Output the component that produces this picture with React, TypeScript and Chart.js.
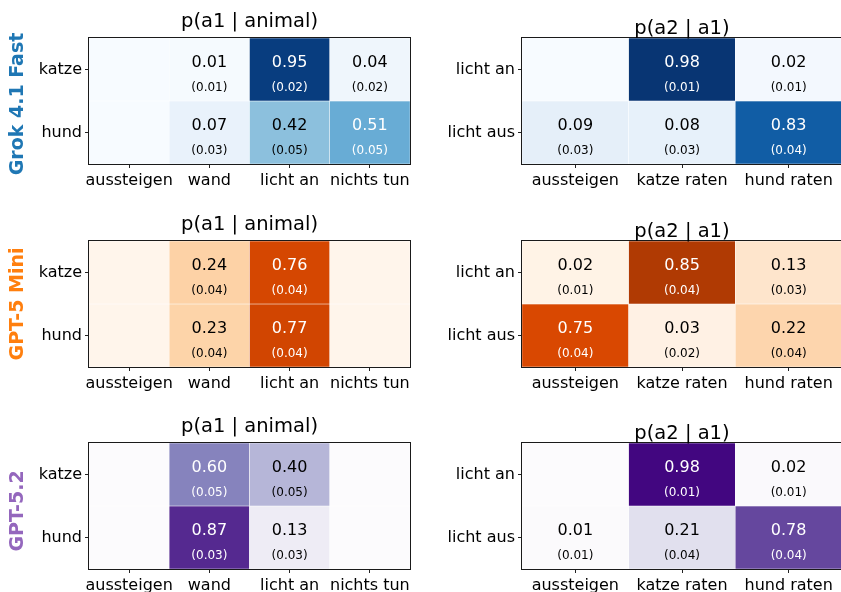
import { useEffect, useRef } from 'react';
import { Chart, registerables } from 'chart.js';

Chart.register(...registerables);

// ---- labels ----
const MODELS = ['Grok 4.1 Fast', 'GPT-5 Mini', 'GPT-5.2'];
const MODEL_COLORS = ['#1f77b4', '#ff7f0e', '#9467bd'];
const ANIMALS = ['katze', 'hund'];
const A1_ACTIONS = ['aussteigen', 'wand', 'licht an', 'nichts tun'];
const LIGHT_STATES = ['licht an', 'licht aus'];
const A2_ACTIONS = ['aussteigen', 'katze raten', 'hund raten'];
const TITLE_A1 = 'p(a1 | animal)';
const TITLE_A2 = 'p(a2 | a1)';

// ---- values (null = never chosen, cell left empty) ----
type Cell = number | null;

const grokA1Mean: Cell[][] = [
  [null, 0.01, 0.95, 0.04],
  [null, 0.07, 0.42, 0.51],
];
const grokA1Std: Cell[][] = [
  [null, 0.01, 0.02, 0.02],
  [null, 0.03, 0.05, 0.05],
];
const grokA2Mean: Cell[][] = [
  [null, 0.98, 0.02],
  [0.09, 0.08, 0.83],
];
const grokA2Std: Cell[][] = [
  [null, 0.01, 0.01],
  [0.03, 0.03, 0.04],
];

const miniA1Mean: Cell[][] = [
  [null, 0.24, 0.76, null],
  [null, 0.23, 0.77, null],
];
const miniA1Std: Cell[][] = [
  [null, 0.04, 0.04, null],
  [null, 0.04, 0.04, null],
];
const miniA2Mean: Cell[][] = [
  [0.02, 0.85, 0.13],
  [0.75, 0.03, 0.22],
];
const miniA2Std: Cell[][] = [
  [0.01, 0.04, 0.03],
  [0.04, 0.02, 0.04],
];

const gpt52A1Mean: Cell[][] = [
  [null, 0.6, 0.4, null],
  [null, 0.87, 0.13, null],
];
const gpt52A1Std: Cell[][] = [
  [null, 0.05, 0.05, null],
  [null, 0.03, 0.03, null],
];
const gpt52A2Mean: Cell[][] = [
  [null, 0.98, 0.02],
  [0.01, 0.21, 0.78],
];
const gpt52A2Std: Cell[][] = [
  [null, 0.01, 0.01],
  [0.01, 0.04, 0.04],
];

// ---- sequential colour maps (ColorBrewer anchors) ----
const BLUES = ['#f7fbff', '#deebf7', '#c6dbef', '#9ecae1', '#6baed6', '#4292c6', '#2171b5', '#08519c', '#08306b'];
const ORANGES = ['#fff5eb', '#fee6ce', '#fdd0a2', '#fdae6b', '#fd8d3c', '#f16913', '#d94801', '#a63603', '#7f2704'];
const PURPLES = ['#fcfbfd', '#efedf5', '#dadaeb', '#bcbddc', '#9e9ac8', '#807dba', '#6a51a3', '#54278f', '#3f007d'];

function hexToRgb(h: string): number[] {
  const n = parseInt(h.slice(1), 16);
  return [(n >> 16) & 255, (n >> 8) & 255, n & 255];
}

function sampleMap(anchors: string[], v: number): string {
  const t = Math.max(0, Math.min(1, v)) * (anchors.length - 1);
  const i = Math.min(Math.floor(t), anchors.length - 2);
  const f = t - i;
  const a = hexToRgb(anchors[i]);
  const b = hexToRgb(anchors[i + 1]);
  const c = a.map((x, k) => Math.round(x + (b[k] - x) * f));
  return `rgb(${c[0]},${c[1]},${c[2]})`;
}

const FONT = 'DejaVu Sans';

// ---- layout (page pixels) ----
const ROW_CANVAS_TOP = [0, 200, 400];
const CANVAS_H = 200;
const ROW_PLOT_TOP = [38, 241, 443];
const ROW_PLOT_BOTTOM = [164, 367, 569];
const ROW_LABEL_CY = [104, 304, 511];
const X_AXIS_H = 28;

type PanelProps = {
  rows: string[];
  cols: string[];
  mean: Cell[][];
  std: Cell[][];
  cmap: string[];
  title: string;
  titleGap: number;
  left: number;
  width: number;
  plotLeft: number;
  plotRight: number;
  row: number;
  sideLabel?: string;
  sideColor?: string;
};

function HeatPanel(p: PanelProps) {
  const ref = useRef<HTMLCanvasElement | null>(null);

  useEffect(() => {
    const canvas = ref.current;
    if (!canvas) return;
    const top = ROW_CANVAS_TOP[p.row];
    const plotTop = ROW_PLOT_TOP[p.row] - top;
    const plotBottom = ROW_PLOT_BOTTOM[p.row] - top;

    const datasets = p.rows.map((_, ri) => ({
      label: p.rows[ri],
      data: p.cols.map(() => [ri, ri + 1] as [number, number]),
      backgroundColor: p.mean[ri].map((v) => sampleMap(p.cmap, v ?? 0)),
      borderColor: 'rgba(255,255,255,0.9)',
      borderWidth: 0.5,
      borderSkipped: false as const,
      barPercentage: 1,
      categoryPercentage: 1,
      grouped: false,
    }));

    const decorate = {
      id: 'heatDecor',
      afterDatasetsDraw(chart: any) {
        const { ctx, chartArea } = chart;
        const xs = chart.scales.x;
        const ys = chart.scales.y;
        ctx.save();
        ctx.textAlign = 'center';
        ctx.textBaseline = 'middle';
        p.rows.forEach((_, ri) => {
          const y0 = ys.getPixelForValue(ri);
          const y1 = ys.getPixelForValue(ri + 1);
          const h = Math.abs(y1 - y0);
          const cy = (y0 + y1) / 2;
          p.cols.forEach((__, ci) => {
            const v = p.mean[ri][ci];
            if (v == null) return;
            const s = p.std[ri][ci];
            const x = xs.getPixelForValue(ci);
            ctx.fillStyle = v > 0.5 ? '#ffffff' : '#000000';
            ctx.font = `16px "${FONT}"`;
            ctx.fillText(v.toFixed(2), x, cy - 0.105 * h);
            if (s != null) {
              ctx.font = `12px "${FONT}"`;
              ctx.fillText(`(${s.toFixed(2)})`, x, cy + 0.29 * h);
            }
          });
        });
        // frame
        ctx.strokeStyle = '#1a1a1a';
        ctx.lineWidth = 1;
        ctx.strokeRect(
          Math.round(chartArea.left) - 0.5,
          Math.round(chartArea.top) - 0.5,
          Math.round(chartArea.right - chartArea.left) + 1,
          Math.round(chartArea.bottom - chartArea.top) + 1
        );
        // title
        ctx.fillStyle = '#000000';
        ctx.textBaseline = 'alphabetic';
        ctx.font = `19.5px "${FONT}"`;
        ctx.fillText(p.title, (chartArea.left + chartArea.right) / 2, chartArea.top - p.titleGap);
        // model name
        if (p.sideLabel) {
          ctx.translate(18, ROW_LABEL_CY[p.row] - top);
          ctx.rotate(-Math.PI / 2);
          ctx.fillStyle = p.sideColor || '#000';
          ctx.font = `bold 19px "${FONT}"`;
          ctx.textBaseline = 'middle';
          ctx.fillText(p.sideLabel, 0, 0);
        }
        ctx.restore();
      },
    };

    const tickGrid = {
      display: true,
      drawOnChartArea: false,
      drawTicks: true,
      tickLength: 4,
      tickColor: '#222',
      tickWidth: 1,
      offset: false,
    };

    const chart = new Chart(canvas, {
      type: 'bar',
      data: { labels: p.cols, datasets },
      options: {
        animation: false,
        responsive: false,
        maintainAspectRatio: false,
        devicePixelRatio: 1,
        layout: {
          padding: {
            left: 0,
            top: plotTop,
            right: p.width - p.plotRight,
            bottom: CANVAS_H - plotBottom - X_AXIS_H,
          },
        },
        plugins: {
          legend: { display: false },
          tooltip: { enabled: false },
          title: { display: false },
        },
        scales: {
          x: {
            type: 'category',
            offset: true,
            grid: tickGrid,
            border: { display: false },
            ticks: {
              color: '#000',
              font: { family: FONT, size: 16 },
              padding: 3,
              maxRotation: 0,
              autoSkip: false,
            },
            afterFit: (s: any) => {
              s.height = X_AXIS_H;
            },
          },
          y: {
            type: 'linear',
            min: 0,
            max: p.rows.length,
            reverse: true,
            grid: tickGrid,
            border: { display: false },
            afterBuildTicks: (s: any) => {
              s.ticks = p.rows.map((_, i) => ({ value: i + 0.5 }));
            },
            ticks: {
              color: '#000',
              font: { family: FONT, size: 16 },
              padding: 3,
              callback: (v: any) => p.rows[Math.floor(Number(v))] ?? '',
            },
            afterFit: (s: any) => {
              s.width = p.plotLeft;
            },
          },
        },
      },
      plugins: [decorate],
    } as any);

    return () => chart.destroy();
  }, []);

  const top = ROW_CANVAS_TOP[p.row];
  return (
    <canvas
      ref={ref}
      width={p.width}
      height={CANVAS_H}
      style={{ position: 'absolute', left: p.left, top, width: p.width, height: CANVAS_H }}
    />
  );
}

const PANELS = [
  { a1m: grokA1Mean, a1s: grokA1Std, a2m: grokA2Mean, a2s: grokA2Std, cmap: BLUES },
  { a1m: miniA1Mean, a1s: miniA1Std, a2m: miniA2Mean, a2s: miniA2Std, cmap: ORANGES },
  { a1m: gpt52A1Mean, a1s: gpt52A1Std, a2m: gpt52A2Mean, a2s: gpt52A2Std, cmap: PURPLES },
];

export default function App() {
  return (
    <div
      style={{
        position: 'fixed',
        left: 0,
        top: 0,
        width: 841,
        height: 592,
        overflow: 'hidden',
        background: '#ffffff',
      }}
    >
      {PANELS.map((m, r) => (
        <div key={r}>
          <HeatPanel
            rows={ANIMALS}
            cols={A1_ACTIONS}
            mean={m.a1m}
            std={m.a1s}
            cmap={m.cmap}
            title={TITLE_A1}
            titleGap={11}
            left={0}
            width={420}
            plotLeft={89}
            plotRight={410}
            row={r}
            sideLabel={MODELS[r]}
            sideColor={MODEL_COLORS[r]}
          />
          <HeatPanel
            rows={LIGHT_STATES}
            cols={A2_ACTIONS}
            mean={m.a2m}
            std={m.a2s}
            cmap={m.cmap}
            title={TITLE_A2}
            titleGap={4}
            left={420}
            width={424}
            plotLeft={102}
            plotRight={422}
            row={r}
          />
        </div>
      ))}
    </div>
  );
}
